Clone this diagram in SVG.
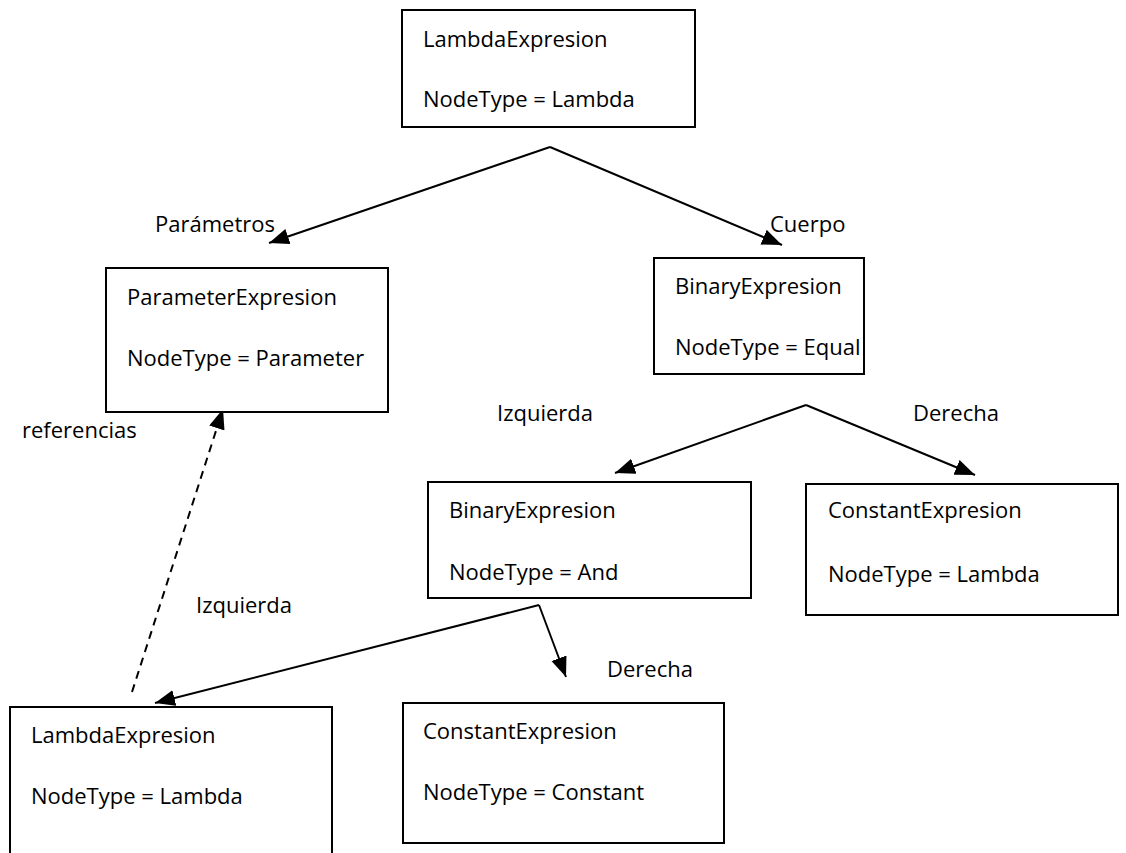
<svg xmlns="http://www.w3.org/2000/svg" width="1126" height="853" viewBox="0 0 1126 853">
  <style>
    .box { fill: #ffffff; stroke: #000000; stroke-width: 2; }
    .t { font-family: "Open Sans", "Liberation Sans", Arial, sans-serif; font-size: 22px; fill: #000000; }
    .edge { fill: none; stroke: #000000; stroke-width: 2; }
    .dash { stroke-dasharray: 8 6; }
  </style>
  <defs>
    <marker id="arrow" markerUnits="userSpaceOnUse" markerWidth="22" markerHeight="18" refX="20" refY="8" orient="auto">
      <path d="M0,0 L20,8 L0,16 Z" fill="#000000"/>
    </marker>
  </defs>

  <rect width="1126" height="853" fill="#ffffff"/>

  <!-- connectors -->
  <g id="connectors">
    <path class="edge" d="M550,147 L269,243" marker-end="url(#arrow)"/>
    <path class="edge" d="M550,147 L782,245" marker-end="url(#arrow)"/>
    <path class="edge" d="M806,405 L615,473" marker-end="url(#arrow)"/>
    <path class="edge" d="M806,405 L975,475" marker-end="url(#arrow)"/>
    <path class="edge" d="M539,605 L155,703" marker-end="url(#arrow)"/>
    <path class="edge" d="M539,605 L566,677" marker-end="url(#arrow)"/>
    <path class="edge dash" d="M132,692 L223,409" marker-end="url(#arrow)"/>
  </g>

  <!-- edge labels -->
  <g id="labels">
    <text class="t" x="155" y="232">Parámetros</text>
    <text class="t" x="770" y="232">Cuerpo</text>
    <text class="t" x="497" y="421">Izquierda</text>
    <text class="t" x="913" y="421">Derecha</text>
    <text class="t" x="22" y="438">referencias</text>
    <text class="t" x="196" y="613">Izquierda</text>
    <text class="t" x="607" y="677">Derecha</text>
  </g>

  <g id="lambda-root">
    <rect class="box" x="402" y="10" width="293" height="117"/>
    <text class="t" x="423" y="47">LambdaExpresion</text>
    <text class="t" x="423" y="107">NodeType = Lambda</text>
  </g>

  <g id="parameter">
    <rect class="box" x="106" y="268" width="282" height="144"/>
    <text class="t" x="127" y="305">ParameterExpresion</text>
    <text class="t" x="127" y="366">NodeType = Parameter</text>
  </g>

  <g id="binary-equal">
    <rect class="box" x="654" y="258" width="210" height="116"/>
    <text class="t" x="675" y="294">BinaryExpresion</text>
    <text class="t" x="675" y="355">NodeType = Equal</text>
  </g>

  <g id="binary-and">
    <rect class="box" x="428" y="482" width="323" height="116"/>
    <text class="t" x="449" y="518">BinaryExpresion</text>
    <text class="t" x="449" y="580">NodeType = And</text>
  </g>

  <g id="constant-lambda">
    <rect class="box" x="806" y="484" width="312" height="131"/>
    <text class="t" x="828" y="518">ConstantExpresion</text>
    <text class="t" x="828" y="582">NodeType = Lambda</text>
  </g>

  <g id="lambda-leaf">
    <rect class="box" x="10" y="707" width="322" height="160"/>
    <text class="t" x="31" y="743">LambdaExpresion</text>
    <text class="t" x="31" y="804">NodeType = Lambda</text>
  </g>

  <g id="constant-constant">
    <rect class="box" x="403" y="703" width="321" height="140"/>
    <text class="t" x="423" y="739">ConstantExpresion</text>
    <text class="t" x="423" y="800">NodeType = Constant</text>
  </g>
</svg>
